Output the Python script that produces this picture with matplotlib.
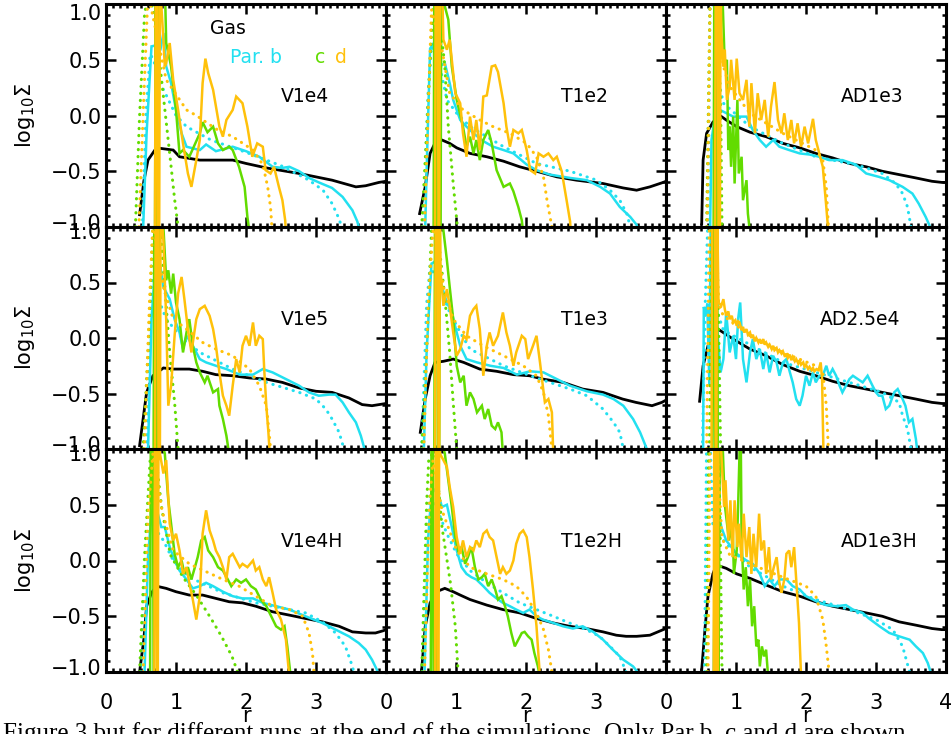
import matplotlib.pyplot as plt
from matplotlib.ticker import MultipleLocator
from matplotlib.transforms import ScaledTranslation

# Radial profiles, (r, log10 Sigma) pairs. "gas" is the gas disc, b/c/d are the
# particle species at the end of the run, b0/c0/d0 their initial profiles.

v1e4_gas = [(0.48, -0.89), (0.54, -0.59), (0.60, -0.40), (0.72, -0.29), (0.96, -0.31), (1.05, -0.37),
            (1.34, -0.40), (1.81, -0.40), (2.00, -0.43), (2.29, -0.47), (2.76, -0.52), (3.23, -0.58),
            (3.57, -0.64), (3.71, -0.63), (3.90, -0.60), (4.0, -0.59)]
v1e4_b = [(0.53, -1.02), (0.58, -0.16), (0.65, 0.62), (0.72, 0.63), (0.78, 0.60), (0.82, 0.74), (0.86, 0.44),
          (0.93, 0.29), (1.00, 0.05), (1.08, -0.16), (1.15, -0.28), (1.34, -0.31), (1.43, -0.26), (1.57, -0.32),
          (1.81, -0.28), (2.00, -0.32), (2.19, -0.37), (2.38, -0.46), (2.52, -0.47), (2.62, -0.46), (2.76, -0.50),
          (2.90, -0.56), (3.04, -0.60), (3.23, -0.65), (3.38, -0.73), (3.52, -0.85), (3.59, -0.95), (3.62, -1.02)]
v1e4_b0 = [(0.52, -1.0), (0.57, 0.0), (0.63, 0.55), (0.68, 0.5), (0.75, 0.32), (0.87, 0.17), (1.0, 0.0),
           (1.15, -0.1), (1.5, -0.22), (2.0, -0.33), (2.5, -0.45), (2.9, -0.58), (3.1, -0.67), (3.23, -0.79),
           (3.31, -0.9), (3.37, -1.0)]
v1e4_c = [(0.70, -1.05), (0.71, 1.2), (0.73, -1.05), (0.75, -1.05), (0.76, 1.2), (0.84, 1.2), (0.86, 0.65),
          (0.93, 0.44), (1.00, 0.05), (1.05, -0.34), (1.10, -0.31), (1.19, -0.37), (1.34, -0.16), (1.38, -0.06),
          (1.45, -0.15), (1.53, -0.10), (1.60, -0.25), (1.67, -0.31), (1.76, -0.28), (1.81, -0.31), (1.90, -0.46),
          (1.98, -0.64), (2.02, -0.91), (2.05, -1.05)]
v1e4_c0 = [(0.42, -1.0), (0.48, 0.0), (0.55, 0.9), (0.60, 1.1), (0.70, 0.9), (0.78, 0.4), (0.85, 0.0),
           (0.92, -0.4), (0.98, -0.75), (1.03, -1.0)]
v1e4_d = [(0.70, -1.05), (0.71, 1.2), (0.73, 1.2), (0.74, -1.05), (0.76, -1.05), (0.77, 1.2), (0.79, 0.99),
          (0.82, 0.68), (0.84, 0.44), (0.86, 0.47), (0.91, 0.65), (0.96, 0.32), (1.03, 0.05), (1.10, -0.25),
          (1.17, -0.52), (1.22, -0.64), (1.29, -0.40), (1.34, -0.22), (1.38, 0.29), (1.42, 0.51), (1.46, 0.38),
          (1.53, 0.23), (1.62, -0.10), (1.67, -0.19), (1.72, -0.04), (1.81, 0.05), (1.86, 0.17), (1.95, 0.11),
          (2.02, -0.10), (2.09, -0.37), (2.16, -0.25), (2.24, -0.28), (2.28, -0.49), (2.35, -0.52), (2.40, -0.46),
          (2.47, -0.64), (2.52, -0.76), (2.56, -0.94), (2.57, -1.05)]
v1e4_d0 = [(0.47, -1.0), (0.53, 0.0), (0.60, 1.1), (0.70, 0.8), (0.86, 0.32), (1.15, 0.05), (1.29, 0.0),
           (1.57, -0.12), (1.81, -0.19), (2.10, -0.31), (2.24, -0.44), (2.31, -0.64), (2.35, -0.82), (2.37, -1.0)]

t1e2_gas = [(0.48, -0.88), (0.56, -0.64), (0.63, -0.34), (0.72, -0.22), (0.80, -0.22), (0.91, -0.25),
            (1.01, -0.29), (1.20, -0.34), (1.44, -0.37), (1.68, -0.41), (1.91, -0.46), (2.15, -0.50),
            (2.44, -0.55), (2.72, -0.58), (3.10, -0.61), (3.39, -0.65), (3.58, -0.67), (3.77, -0.64),
            (3.96, -0.60), (4.0, -0.59)]
t1e2_b = [(0.56, -1.02), (0.58, -0.5), (0.63, 0.6), (0.68, 0.65), (0.72, 0.5), (0.77, 0.44), (0.84, 0.47),
          (0.91, 0.29), (0.96, 0.14), (1.06, -0.04), (1.15, -0.10), (1.25, -0.16), (1.39, -0.23), (1.53, -0.28),
          (1.68, -0.31), (1.82, -0.34), (2.01, -0.44), (2.15, -0.49), (2.34, -0.53), (2.63, -0.56), (2.87, -0.58),
          (3.06, -0.64), (3.20, -0.70), (3.34, -0.82), (3.49, -0.91), (3.58, -0.98), (3.60, -1.02)]
t1e2_b0 = [(0.53, -1.0), (0.60, 0.2), (0.65, 0.62), (0.77, 0.44), (0.87, 0.14), (1.01, 0.02), (1.20, -0.10),
           (1.68, -0.28), (2.15, -0.43), (2.63, -0.50), (3.01, -0.58), (3.20, -0.67), (3.34, -0.76), (3.44, -0.88),
           (3.49, -1.0)]
t1e2_c = [(0.68, -1.05), (0.69, 1.2), (0.72, 1.2), (0.73, -1.05), (0.78, -1.05), (0.79, 1.2), (0.84, 0.98),
          (0.89, 0.86), (0.94, 0.44), (1.01, 0.14), (1.10, -0.10), (1.15, -0.28), (1.20, -0.19), (1.25, -0.34),
          (1.29, -0.22), (1.34, -0.40), (1.39, -0.22), (1.46, -0.13), (1.51, -0.25), (1.58, -0.49), (1.68, -0.64),
          (1.77, -0.61), (1.82, -0.68), (1.89, -0.82), (1.94, -0.94), (1.96, -1.05)]
t1e2_c0 = [(0.51, -1.0), (0.58, -0.16), (0.65, 0.74), (0.70, 1.1), (0.78, 0.8), (0.84, 0.44), (0.89, -0.10),
           (0.96, -0.61), (1.02, -1.0)]
t1e2_d = [(0.70, -1.05), (0.71, 1.2), (0.74, 1.2), (0.75, -1.05), (0.76, -1.05), (0.77, 1.2), (0.80, 1.2),
          (0.82, 0.68), (0.87, 0.59), (0.91, 0.68), (0.94, 0.50), (0.99, 0.20), (1.06, 0.11), (1.10, -0.16),
          (1.15, -0.37), (1.20, -0.01), (1.25, -0.22), (1.29, -0.04), (1.34, -0.31), (1.39, 0.17), (1.44, 0.18),
          (1.51, 0.44), (1.56, 0.45), (1.60, 0.39), (1.68, 0.11), (1.72, -0.10), (1.77, -0.28), (1.82, -0.13),
          (1.89, -0.16), (1.94, -0.13), (2.01, -0.31), (2.06, -0.49), (2.13, -0.52), (2.18, -0.34), (2.25, -0.37),
          (2.32, -0.34), (2.39, -0.40), (2.44, -0.37), (2.51, -0.50), (2.58, -0.76), (2.63, -0.95), (2.64, -1.05)]
t1e2_d0 = [(0.55, -1.0), (0.60, 0.0), (0.65, 0.95), (0.80, 0.59), (0.91, 0.20), (1.10, 0.05), (1.34, -0.04),
           (1.53, -0.10), (1.77, -0.16), (2.01, -0.25), (2.15, -0.37), (2.25, -0.55), (2.30, -0.76), (2.37, -1.0)]

ad1e3_gas = [(0.51, -0.97), (0.53, -0.40), (0.58, -0.16), (0.67, -0.06), (0.77, 0.0), (0.86, -0.04),
             (1.01, -0.10), (1.20, -0.15), (1.43, -0.19), (1.67, -0.25), (1.91, -0.29), (2.14, -0.34),
             (2.38, -0.38), (2.62, -0.43), (2.86, -0.46), (3.09, -0.50), (3.33, -0.53), (3.57, -0.56),
             (3.80, -0.59), (3.94, -0.60), (4.0, -0.60)]
ad1e3_b = [(0.63, -1.02), (0.65, -0.22), (0.70, -0.01), (0.77, 0.05), (0.96, -0.01), (1.15, -0.01), (1.24, -0.13),
           (1.34, -0.22), (1.43, -0.28), (1.53, -0.22), (1.62, -0.28), (1.76, -0.31), (1.91, -0.34), (2.05, -0.35),
           (2.19, -0.37), (2.33, -0.40), (2.52, -0.40), (2.71, -0.44), (2.86, -0.52), (3.04, -0.55), (3.19, -0.58),
           (3.38, -0.64), (3.52, -0.70), (3.61, -0.79), (3.71, -0.91), (3.76, -0.98), (3.78, -1.02)]
ad1e3_b0 = [(0.60, -1.0), (0.63, 1.1), (0.68, 1.1), (0.72, 0.4), (0.82, 0.11), (1.20, -0.10), (1.67, -0.25),
            (2.14, -0.37), (2.62, -0.43), (2.81, -0.46), (3.09, -0.52), (3.28, -0.61), (3.38, -0.70),
            (3.45, -0.82), (3.50, -1.0)]
ad1e3_c = [(0.68, -1.05), (0.69, 1.2), (0.71, 1.2), (0.72, -1.05), (0.74, -1.05), (0.75, 1.2), (0.80, 1.2),
           (0.84, 0.44), (0.87, 0.50), (0.89, -0.31), (0.91, -0.10), (0.93, -0.46), (0.96, -0.01), (0.98, -0.61),
           (1.02, 0.14), (1.04, -0.52), (1.08, -0.37), (1.10, -0.76), (1.15, -0.58), (1.17, -0.88), (1.20, -1.05)]
ad1e3_c0 = [(0.58, -1.0), (0.63, 1.1), (0.72, 1.1), (0.78, 0.14), (0.80, -1.0)]
ad1e3_d = [(0.70, -1.05), (0.71, 1.2), (0.74, 1.2), (0.75, -1.05), (0.77, -1.05), (0.78, 1.2), (0.79, 0.74),
           (0.82, 0.44), (0.84, 0.59), (0.87, 0.14), (0.91, 0.26), (0.93, 0.50), (0.98, 0.14), (1.01, 0.51),
           (1.05, 0.20), (1.10, 0.14), (1.15, 0.32), (1.19, -0.10), (1.22, 0.29), (1.27, -0.16), (1.31, 0.20),
           (1.36, -0.04), (1.41, 0.14), (1.46, -0.19), (1.50, 0.08), (1.55, 0.30), (1.60, -0.04), (1.65, -0.16),
           (1.69, 0.02), (1.74, -0.22), (1.79, -0.04), (1.83, -0.25), (1.88, -0.07), (1.93, -0.28), (1.98, -0.10),
           (2.03, -0.25), (2.10, -0.03), (2.14, -0.22), (2.19, -0.34), (2.24, -0.46), (2.29, -0.82), (2.32, -1.05)]
ad1e3_d0 = [(0.59, -1.0), (0.63, 1.1), (0.70, 1.1), (0.82, 0.44), (0.91, 0.26), (1.20, 0.02), (1.67, -0.16),
            (2.14, -0.31), (2.24, -0.40), (2.29, -0.64), (2.32, -1.0)]

v1e5_gas = [(0.48, -0.97), (0.53, -0.73), (0.58, -0.49), (0.67, -0.34), (0.82, -0.27), (0.96, -0.28),
            (1.19, -0.28), (1.38, -0.30), (1.57, -0.33), (1.81, -0.34), (2.05, -0.36), (2.29, -0.37),
            (2.52, -0.40), (2.76, -0.45), (3.00, -0.48), (3.23, -0.49), (3.47, -0.54), (3.66, -0.60),
            (3.80, -0.61), (3.90, -0.60), (4.0, -0.59)]
v1e5_b = [(0.60, -1.02), (0.65, 0.17), (0.70, 0.61), (0.77, 0.67), (0.82, 0.46), (0.91, 0.35), (0.98, 0.17),
          (1.05, 0.05), (1.10, -0.10), (1.15, 0.02), (1.24, -0.07), (1.34, -0.19), (1.43, -0.22), (1.57, -0.25),
          (1.72, -0.28), (1.91, -0.33), (2.10, -0.33), (2.24, -0.28), (2.38, -0.31), (2.57, -0.37), (2.76, -0.43),
          (2.90, -0.49), (3.04, -0.52), (3.19, -0.51), (3.28, -0.51), (3.38, -0.58), (3.47, -0.67), (3.57, -0.76),
          (3.64, -0.88), (3.68, -0.97), (3.70, -1.02)]
v1e5_b0 = [(0.58, -1.0), (0.65, 0.5), (0.70, 0.55), (0.77, 0.32), (0.86, 0.17), (1.10, -0.01), (1.34, -0.13),
           (1.81, -0.28), (2.29, -0.40), (2.76, -0.49), (3.00, -0.55), (3.14, -0.64), (3.23, -0.73), (3.33, -0.85),
           (3.40, -1.0)]
v1e5_c = [(0.68, -1.05), (0.69, 1.2), (0.71, 1.2), (0.72, -1.05), (0.75, -1.05), (0.76, 1.2), (0.82, 1.0),
          (0.86, 0.52), (0.89, 0.61), (0.93, 0.40), (0.96, 0.58), (1.00, 0.32), (1.05, 0.17), (1.10, -0.13),
          (1.15, 0.05), (1.19, 0.17), (1.24, -0.07), (1.29, -0.22), (1.34, -0.31), (1.41, -0.40), (1.45, -0.34),
          (1.53, -0.49), (1.60, -0.46), (1.62, -0.61), (1.67, -0.73), (1.72, -0.88), (1.76, -1.05)]
v1e5_c0 = [(0.53, -1.0), (0.60, -0.13), (0.67, 0.97), (0.77, 1.05), (0.84, 0.46), (0.91, -0.13), (0.98, -0.58),
           (1.03, -1.0)]
v1e5_d = [(0.70, -1.05), (0.71, 1.2), (0.74, 1.2), (0.75, -1.05), (0.77, -1.05), (0.78, 1.2), (0.82, 0.88),
          (0.86, 0.17), (0.89, -0.61), (0.93, -0.43), (0.98, 0.02), (1.03, 0.40), (1.08, 0.55), (1.12, 0.35),
          (1.17, 0.08), (1.22, -0.13), (1.29, 0.17), (1.34, 0.26), (1.41, 0.29), (1.48, 0.20), (1.53, 0.08),
          (1.57, -0.07), (1.62, -0.31), (1.67, -0.52), (1.72, -0.61), (1.76, -0.70), (1.81, -0.43), (1.86, -0.19),
          (1.91, -0.31), (1.95, -0.07), (2.00, 0.02), (2.05, -0.07), (2.10, 0.14), (2.14, -0.07), (2.19, 0.02),
          (2.24, -0.01), (2.26, -0.28), (2.29, -0.61), (2.32, -0.85), (2.34, -1.05)]
v1e5_d0 = [(0.55, -1.0), (0.62, 0.3), (0.67, 1.05), (0.82, 0.46), (0.96, 0.17), (1.15, 0.08), (1.38, -0.04),
           (1.57, -0.10), (1.81, -0.16), (2.05, -0.28), (2.19, -0.43), (2.29, -0.61), (2.33, -0.85), (2.35, -1.0)]

t1e3_gas = [(0.49, -0.85), (0.56, -0.55), (0.63, -0.34), (0.70, -0.22), (0.82, -0.21), (0.96, -0.19),
            (1.11, -0.22), (1.34, -0.28), (1.58, -0.30), (1.82, -0.33), (2.05, -0.34), (2.24, -0.37),
            (2.53, -0.40), (2.81, -0.46), (3.10, -0.49), (3.38, -0.55), (3.57, -0.58), (3.80, -0.61),
            (3.94, -0.58), (4.0, -0.56)]
t1e3_b = [(0.54, -1.02), (0.58, -0.13), (0.65, 0.67), (0.73, 0.70), (0.80, 0.46), (0.87, 0.32), (0.94, 0.23),
          (1.01, 0.05), (1.06, -0.07), (1.15, -0.19), (1.30, -0.22), (1.49, -0.25), (1.68, -0.27), (1.87, -0.33),
          (2.06, -0.30), (2.25, -0.31), (2.44, -0.37), (2.63, -0.43), (2.87, -0.48), (3.10, -0.51), (3.25, -0.55),
          (3.39, -0.61), (3.53, -0.73), (3.63, -0.85), (3.72, -0.99), (3.73, -1.02)]
t1e3_b0 = [(0.51, -1.0), (0.58, 0.3), (0.63, 0.65), (0.77, 0.46), (0.91, 0.23), (1.06, 0.05), (1.20, -0.10),
           (1.68, -0.25), (2.15, -0.36), (2.63, -0.46), (2.87, -0.52), (3.10, -0.64), (3.25, -0.76), (3.34, -0.85),
           (3.39, -1.0)]
t1e3_c = [(0.69, -1.05), (0.70, 1.2), (0.73, 1.2), (0.74, -1.05), (0.76, -1.05), (0.77, 1.2), (0.82, 0.97),
          (0.87, 0.70), (0.91, 0.46), (0.96, 0.17), (1.01, -0.25), (1.06, -0.40), (1.11, -0.34), (1.15, -0.61),
          (1.20, -0.49), (1.25, -0.55), (1.30, -0.67), (1.37, -0.61), (1.41, -0.73), (1.46, -0.64), (1.51, -0.79),
          (1.56, -0.82), (1.60, -0.76), (1.65, -0.85), (1.67, -1.05)]
t1e3_c0 = [(0.51, -1.0), (0.58, -0.13), (0.65, 0.97), (0.72, 1.05), (0.84, 0.37), (0.91, -0.13), (0.96, -0.58),
           (1.01, -1.0)]
t1e3_d = [(0.70, -1.05), (0.71, 1.2), (0.74, 1.2), (0.75, -1.05), (0.76, -1.05), (0.77, 1.2), (0.78, 0.59),
          (0.82, 0.29), (0.87, 0.44), (0.91, 0.29), (0.96, 0.05), (1.01, -0.16), (1.06, -0.10), (1.11, 0.02),
          (1.15, -0.01), (1.20, 0.20), (1.25, 0.26), (1.29, 0.29), (1.34, 0.08), (1.39, -0.34), (1.44, -0.07),
          (1.48, 0.05), (1.53, -0.07), (1.60, 0.02), (1.67, 0.23), (1.72, 0.05), (1.77, -0.07), (1.82, -0.25),
          (1.86, -0.13), (1.94, 0.02), (1.99, -0.01), (2.03, -0.19), (2.10, -0.07), (2.15, 0.02), (2.20, -0.22),
          (2.24, -0.43), (2.27, -0.58), (2.32, -0.55), (2.37, -0.67), (2.39, -1.05)]
t1e3_d0 = [(0.54, -1.0), (0.60, 0.3), (0.68, 1.05), (0.82, 0.46), (0.96, 0.17), (1.15, 0.02), (1.39, -0.07),
           (1.68, -0.16), (1.96, -0.25), (2.15, -0.34), (2.25, -0.49), (2.32, -0.70), (2.37, -1.0)]

ad25e4_gas = [(0.48, -0.57), (0.53, -0.25), (0.60, -0.07), (0.72, 0.09), (0.96, -0.01), (1.20, -0.10),
              (1.43, -0.16), (1.67, -0.24), (1.91, -0.30), (2.14, -0.34), (2.38, -0.39), (2.62, -0.43),
              (2.86, -0.46), (3.09, -0.49), (3.33, -0.52), (3.57, -0.55), (3.80, -0.58), (3.94, -0.59), (4.0, -0.59)]
ad25e4_b = [(0.53, -1.02), (0.54, 0.28), (0.57, 0.20), (0.59, 0.31), (0.62, -0.43), (0.64, 1.2), (0.67, 0.46),
            (0.70, -0.6), (0.72, 0.17), (0.78, -0.31), (0.82, -0.19), (0.86, 0.23), (0.91, -0.13), (0.96, 0.02),
            (1.00, -0.19), (1.03, 0.17), (1.06, 0.32), (1.10, -0.19), (1.15, -0.40), (1.20, -0.13), (1.24, -0.01),
            (1.29, -0.19), (1.34, -0.10), (1.39, -0.28), (1.43, -0.13), (1.48, -0.31), (1.53, -0.16), (1.58, -0.22),
            (1.62, -0.34), (1.67, -0.22), (1.72, -0.19), (1.77, -0.31), (1.81, -0.40), (1.86, -0.55), (1.91, -0.61),
            (1.95, -0.52), (2.00, -0.34), (2.05, -0.43), (2.10, -0.31), (2.14, -0.40), (2.19, -0.34), (2.24, -0.34),
            (2.29, -0.25), (2.33, -0.34), (2.38, -0.28), (2.43, -0.34), (2.48, -0.43), (2.52, -0.49), (2.57, -0.43),
            (2.62, -0.37), (2.67, -0.34), (2.74, -0.37), (2.81, -0.40), (2.88, -0.34), (2.95, -0.43), (3.00, -0.49),
            (3.04, -0.52), (3.09, -0.52), (3.14, -0.64), (3.19, -0.61), (3.26, -0.49), (3.31, -0.46), (3.38, -0.55),
            (3.42, -0.61), (3.47, -0.76), (3.52, -0.73), (3.57, -0.91), (3.59, -1.02)]
ad25e4_b0 = [(0.52, -1.0), (0.56, 0.3), (0.60, 1.1), (0.66, 1.1), (0.70, 0.3), (0.82, 0.07), (1.67, -0.22),
             (2.62, -0.40), (3.09, -0.49), (3.33, -0.58), (3.38, -0.70), (3.45, -0.82), (3.50, -1.0)]
ad25e4_c = [(0.66, -1.05), (0.67, 1.2), (0.69, 1.2), (0.70, -1.05), (0.72, -1.05), (0.73, 1.2), (0.74, -1.05)]
ad25e4_c0 = [(0.62, -1.0), (0.65, 1.1), (0.72, 1.1), (0.75, 0.2), (0.78, -1.0)]
ad25e4_d = [(0.65, -1.05), (0.66, 1.2), (0.70, 1.2), (0.71, -1.05), (0.72, -1.05), (0.73, 1.2), (0.75, 0.32),
            (0.79, 0.29), (0.82, 0.35), (0.84, 0.26), (0.86, 0.20), (0.89, 0.24), (0.91, 0.17), (0.94, 0.20),
            (0.96, 0.14), (0.99, 0.16), (1.01, 0.11), (1.03, 0.15), (1.05, 0.14), (1.08, 0.07), (1.10, 0.10),
            (1.12, 0.05), (1.15, 0.08), (1.17, 0.03), (1.20, 0.05), (1.22, 0.0), (1.24, 0.03), (1.27, -0.03),
            (1.29, 0.0), (1.32, -0.04), (1.34, -0.01), (1.36, -0.05), (1.39, -0.01), (1.41, -0.06), (1.43, -0.04),
            (1.46, -0.08), (1.48, -0.06), (1.51, -0.10), (1.53, -0.07), (1.55, -0.11), (1.58, -0.09), (1.60, -0.13),
            (1.62, -0.11), (1.65, -0.14), (1.67, -0.12), (1.70, -0.17), (1.72, -0.14), (1.74, -0.18), (1.77, -0.15),
            (1.79, -0.20), (1.81, -0.17), (1.84, -0.21), (1.86, -0.19), (1.89, -0.23), (1.91, -0.20), (1.93, -0.24),
            (1.96, -0.22), (1.98, -0.26), (2.00, -0.24), (2.03, -0.28), (2.05, -0.26), (2.08, -0.29), (2.10, -0.27),
            (2.12, -0.30), (2.15, -0.28), (2.18, -0.29), (2.21, -0.22), (2.23, -0.37), (2.24, -0.73), (2.25, -1.05)]
ad25e4_d0 = [(0.58, -1.0), (0.62, 1.1), (0.70, 1.1), (0.75, 0.3), (0.82, 0.20), (1.20, 0.02), (1.67, -0.13),
             (2.14, -0.25), (2.24, -0.31), (2.29, -0.61), (2.32, -1.0)]

v1e4h_gas = [(0.48, -1.0), (0.49, -0.95), (0.54, -0.71), (0.58, -0.41), (0.65, -0.29), (0.72, -0.23),
             (0.86, -0.25), (1.00, -0.28), (1.19, -0.31), (1.38, -0.31), (1.57, -0.34), (1.76, -0.37),
             (1.95, -0.38), (2.14, -0.41), (2.38, -0.46), (2.62, -0.49), (2.85, -0.52), (3.09, -0.55),
             (3.33, -0.59), (3.52, -0.64), (3.71, -0.65), (3.85, -0.65), (3.96, -0.63), (4.0, -0.62)]
v1e4h_b = [(0.55, -1.02), (0.60, 0.03), (0.65, 0.42), (0.70, 0.54), (0.74, 0.42), (0.79, 0.30), (0.84, 0.30),
           (0.91, 0.12), (0.98, 0.0), (1.05, -0.09), (1.15, -0.17), (1.24, -0.25), (1.34, -0.23), (1.43, -0.20),
           (1.53, -0.23), (1.67, -0.28), (1.81, -0.32), (1.95, -0.34), (2.10, -0.34), (2.24, -0.38), (2.43, -0.41),
           (2.62, -0.44), (2.85, -0.50), (3.09, -0.56), (3.28, -0.62), (3.47, -0.68), (3.61, -0.74), (3.71, -0.80),
           (3.80, -0.89), (3.87, -0.98), (3.89, -1.02)]
v1e4h_b0 = [(0.50, -1.0), (0.56, 0.0), (0.63, 0.33), (0.72, 0.27), (0.82, 0.18), (0.96, 0.0), (1.19, -0.15),
            (1.67, -0.29), (2.14, -0.38), (2.62, -0.44), (2.85, -0.47), (3.09, -0.55), (3.28, -0.65),
            (3.42, -0.77), (3.52, -0.95), (3.54, -1.0)]
v1e4h_c = [(0.63, -1.05), (0.64, 1.2), (0.67, 1.2), (0.68, -1.05), (0.73, -1.05), (0.74, 1.2), (0.84, 0.96),
           (0.89, 0.54), (0.93, 0.33), (0.98, 0.06), (1.03, -0.06), (1.08, 0.0), (1.12, -0.12), (1.17, -0.06),
           (1.22, -0.17), (1.27, -0.06), (1.31, 0.03), (1.36, 0.18), (1.41, 0.21), (1.46, 0.09), (1.53, 0.03),
           (1.60, -0.06), (1.67, -0.09), (1.74, -0.17), (1.79, -0.23), (1.86, -0.17), (1.93, -0.20), (2.00, -0.17),
           (2.07, -0.23), (2.14, -0.26), (2.21, -0.35), (2.29, -0.41), (2.36, -0.50), (2.43, -0.59), (2.50, -0.62),
           (2.55, -0.59), (2.59, -0.77), (2.64, -1.05)]
v1e4h_c0 = [(0.48, -1.0), (0.55, 0.03), (0.63, 0.90), (0.70, 0.99), (0.80, 0.45), (0.92, 0.05), (1.10, -0.15),
            (1.30, -0.32), (1.50, -0.52), (1.65, -0.68), (1.80, -0.86), (1.88, -1.0)]
v1e4h_d = [(0.69, -1.05), (0.70, 1.2), (0.72, 1.2), (0.73, -1.05), (0.74, -1.05), (0.75, 1.2), (0.77, 0.96),
           (0.82, 0.78), (0.86, 0.90), (0.91, 0.33), (0.96, 0.18), (1.00, 0.24), (1.05, 0.09), (1.10, -0.12),
           (1.15, -0.06), (1.19, -0.20), (1.24, -0.35), (1.29, -0.53), (1.34, -0.32), (1.38, 0.24), (1.43, 0.45),
           (1.48, 0.27), (1.53, 0.18), (1.57, 0.09), (1.62, 0.03), (1.67, -0.06), (1.72, -0.17), (1.76, 0.03),
           (1.81, 0.06), (1.86, 0.0), (1.91, -0.06), (1.95, -0.03), (2.02, -0.06), (2.10, 0.0), (2.14, -0.09),
           (2.19, -0.06), (2.24, -0.17), (2.29, -0.23), (2.33, -0.15), (2.38, -0.29), (2.43, -0.44), (2.50, -0.53),
           (2.57, -0.71), (2.62, -1.05)]
v1e4h_d0 = [(0.53, -1.0), (0.60, 0.4), (0.67, 0.96), (0.80, 0.45), (0.96, 0.09), (1.19, -0.03), (1.43, -0.10),
            (1.67, -0.17), (1.90, -0.23), (2.14, -0.32), (2.38, -0.41), (2.62, -0.44), (2.81, -0.50), (2.90, -0.65),
            (2.95, -0.83), (2.97, -1.0)]

t1e2h_gas = [(0.51, -0.98), (0.56, -0.59), (0.63, -0.38), (0.72, -0.28), (0.84, -0.25), (0.96, -0.28),
             (1.06, -0.31), (1.20, -0.35), (1.44, -0.40), (1.67, -0.44), (1.91, -0.47), (2.15, -0.52),
             (2.39, -0.56), (2.62, -0.59), (2.86, -0.61), (3.10, -0.64), (3.29, -0.67), (3.43, -0.68),
             (3.58, -0.68), (3.77, -0.67), (3.96, -0.62), (4.0, -0.61)]
t1e2h_b = [(0.55, -1.02), (0.60, 0.18), (0.65, 0.60), (0.72, 0.65), (0.80, 0.48), (0.87, 0.50), (0.94, 0.30),
           (1.01, 0.09), (1.08, -0.06), (1.15, -0.12), (1.22, -0.15), (1.29, -0.17), (1.39, -0.23), (1.48, -0.29),
           (1.58, -0.34), (1.67, -0.38), (1.77, -0.41), (1.86, -0.44), (1.96, -0.47), (2.05, -0.44), (2.15, -0.50),
           (2.24, -0.53), (2.39, -0.56), (2.53, -0.59), (2.67, -0.61), (2.81, -0.59), (2.96, -0.64), (3.10, -0.71),
           (3.24, -0.80), (3.39, -0.89), (3.53, -0.95), (3.62, -1.02)]
t1e2h_b0 = [(0.52, -1.0), (0.58, 0.3), (0.63, 0.6), (0.72, 0.48), (0.87, 0.24), (1.01, 0.06), (1.20, -0.09),
            (1.44, -0.20), (1.67, -0.29), (1.91, -0.38), (2.15, -0.44), (2.39, -0.50), (2.62, -0.56), (2.86, -0.62),
            (3.05, -0.68), (3.20, -0.77), (3.34, -0.86), (3.43, -1.0)]
t1e2h_c = [(0.64, -1.05), (0.65, 1.2), (0.67, 1.2), (0.68, -1.05), (0.73, -1.05), (0.74, 1.2), (0.84, 0.96),
           (0.89, 0.72), (0.94, 0.48), (0.99, 0.21), (1.03, 0.09), (1.08, 0.12), (1.13, -0.03), (1.17, 0.03),
           (1.22, 0.12), (1.27, -0.06), (1.32, -0.17), (1.37, -0.15), (1.41, -0.12), (1.46, -0.23), (1.51, -0.17),
           (1.56, -0.26), (1.60, -0.35), (1.65, -0.32), (1.70, -0.41), (1.74, -0.50), (1.79, -0.65), (1.84, -0.77),
           (1.89, -0.71), (1.94, -0.65), (1.98, -0.64), (2.03, -0.68), (2.08, -0.71), (2.12, -0.83), (2.17, -0.95),
           (2.20, -1.05)]
t1e2h_c0 = [(0.51, -1.0), (0.58, 0.5), (0.61, 0.9), (0.70, 1.0), (0.80, 0.3), (0.92, -0.20), (0.99, -0.59),
            (1.03, -1.0)]
t1e2h_d = [(0.70, -1.05), (0.71, 1.2), (0.73, 1.2), (0.74, -1.05), (0.75, -1.05), (0.76, 1.2), (0.77, 0.96),
           (0.82, 0.90), (0.87, 0.84), (0.91, 0.66), (0.96, 0.48), (1.01, 0.21), (1.06, 0.06), (1.10, 0.18),
           (1.15, 0.03), (1.20, 0.12), (1.25, 0.09), (1.29, 0.18), (1.34, 0.12), (1.39, 0.24), (1.44, 0.27),
           (1.48, 0.21), (1.53, 0.18), (1.58, 0.03), (1.63, -0.12), (1.67, -0.06), (1.72, -0.12), (1.77, -0.09),
           (1.82, 0.0), (1.86, 0.15), (1.91, 0.24), (1.96, 0.27), (2.01, 0.21), (2.05, 0.03), (2.10, -0.26),
           (2.15, -0.59), (2.20, -1.05)]
t1e2h_d0 = [(0.55, -1.0), (0.62, 0.5), (0.67, 0.9), (0.80, 0.45), (0.87, 0.33), (1.01, 0.09), (1.20, -0.06),
            (1.44, -0.12), (1.67, -0.17), (1.86, -0.23), (2.00, -0.32), (2.15, -0.47), (2.25, -0.62), (2.32, -0.80),
            (2.37, -1.0)]

ad1e3h_gas = [(0.51, -0.98), (0.56, -0.59), (0.60, -0.32), (0.67, -0.12), (0.72, -0.04), (0.86, -0.07),
              (1.01, -0.12), (1.20, -0.16), (1.43, -0.22), (1.67, -0.28), (1.91, -0.32), (2.14, -0.37),
              (2.38, -0.41), (2.62, -0.44), (2.86, -0.47), (3.09, -0.50), (3.33, -0.55), (3.57, -0.58),
              (3.80, -0.61), (3.94, -0.62), (4.0, -0.62)]
ad1e3h_b = [(0.68, -1.02), (0.70, 0.18), (0.74, 0.5), (0.79, 0.3), (0.86, 0.18), (1.01, 0.06), (1.15, 0.0),
            (1.24, -0.03), (1.34, -0.12), (1.41, -0.23), (1.48, -0.17), (1.55, -0.23), (1.62, -0.17), (1.72, -0.17),
            (1.81, -0.23), (1.91, -0.26), (2.00, -0.32), (2.10, -0.35), (2.19, -0.38), (2.29, -0.40), (2.43, -0.41),
            (2.57, -0.40), (2.67, -0.44), (2.81, -0.47), (2.90, -0.52), (3.05, -0.59), (3.19, -0.65), (3.33, -0.68),
            (3.48, -0.71), (3.57, -0.77), (3.67, -0.83), (3.74, -0.92), (3.79, -1.02)]
ad1e3h_b0 = [(0.55, -1.0), (0.58, 1.1), (0.63, 1.1), (0.67, 0.3), (0.86, 0.15), (1.20, -0.06), (1.67, -0.23),
             (2.14, -0.35), (2.62, -0.44), (3.00, -0.53), (3.24, -0.62), (3.38, -0.77), (3.48, -1.0)]
ad1e3h_c = [(0.71, -1.05), (0.72, 1.2), (0.74, 1.2), (0.75, -1.05), (0.77, 1.2), (0.80, 1.2), (0.84, 0.5),
            (0.90, 0.18), (0.95, 0.33), (0.97, -0.12), (1.01, 0.09), (1.03, 0.48), (1.06, 1.2), (1.07, 0.96),
            (1.08, 0.18), (1.11, -0.26), (1.14, -0.06), (1.17, -0.41), (1.20, -0.17), (1.23, -0.59), (1.26, -0.41),
            (1.29, -0.77), (1.32, -0.71), (1.34, -0.95), (1.37, -0.77), (1.40, -0.86), (1.43, -0.80), (1.46, -1.05)]
ad1e3h_c0 = [(0.58, -1.0), (0.61, 1.1), (0.75, 1.1), (0.78, 0.0), (0.80, -1.0)]
ad1e3h_d = [(0.68, -1.05), (0.69, 1.2), (0.71, -1.05), (0.72, 1.2), (0.74, -1.05), (0.75, 1.2), (0.79, 0.96),
            (0.83, 0.48), (0.85, 0.72), (0.89, 0.18), (0.92, 0.54), (0.95, 0.03), (0.98, 0.54), (1.02, 0.12),
            (1.04, 0.33), (1.08, 0.0), (1.11, 0.42), (1.15, 0.03), (1.19, 0.30), (1.22, -0.12), (1.25, 0.24),
            (1.29, -0.06), (1.33, 0.42), (1.36, 0.09), (1.40, 0.18), (1.43, -0.12), (1.47, 0.12), (1.50, -0.17),
            (1.54, -0.06), (1.58, 0.03), (1.62, -0.20), (1.65, -0.29), (1.69, -0.17), (1.72, 0.06), (1.76, 0.09),
            (1.79, -0.06), (1.83, 0.12), (1.86, -0.17), (1.90, -0.56), (1.93, -1.05)]
ad1e3h_d0 = [(0.60, -1.0), (0.63, 1.1), (0.72, 1.1), (0.80, 0.2), (0.91, 0.05), (1.20, -0.03), (1.67, -0.15),
             (2.00, -0.23), (2.14, -0.32), (2.24, -0.53), (2.29, -0.77), (2.33, -1.0)]

run_names = ["V1e4", "T1e2", "AD1e3", "V1e5", "T1e3", "AD2.5e4", "V1e4H", "T1e2H", "AD1e3H"]
x_ticks = [0, 1, 2, 3, 4]
y_ticks = [-1.0, -0.5, 0.0, 0.5, 1.0]

panels = [
    (v1e4_gas, v1e4_b, v1e4_b0, v1e4_c, v1e4_c0, v1e4_d, v1e4_d0),
    (t1e2_gas, t1e2_b, t1e2_b0, t1e2_c, t1e2_c0, t1e2_d, t1e2_d0),
    (ad1e3_gas, ad1e3_b, ad1e3_b0, ad1e3_c, ad1e3_c0, ad1e3_d, ad1e3_d0),
    (v1e5_gas, v1e5_b, v1e5_b0, v1e5_c, v1e5_c0, v1e5_d, v1e5_d0),
    (t1e3_gas, t1e3_b, t1e3_b0, t1e3_c, t1e3_c0, t1e3_d, t1e3_d0),
    (ad25e4_gas, ad25e4_b, ad25e4_b0, ad25e4_c, ad25e4_c0, ad25e4_d, ad25e4_d0),
    (v1e4h_gas, v1e4h_b, v1e4h_b0, v1e4h_c, v1e4h_c0, v1e4h_d, v1e4h_d0),
    (t1e2h_gas, t1e2h_b, t1e2h_b0, t1e2h_c, t1e2h_c0, t1e2h_d, t1e2h_d0),
    (ad1e3h_gas, ad1e3h_b, ad1e3h_b0, ad1e3h_c, ad1e3h_c0, ad1e3h_d, ad1e3h_d0),
]

CYAN = "#22e0f0"
GREEN = "#62dc00"
ORANGE = "#ffc10a"
DOTS = (0, (0.1, 2.2))

FIG_W, FIG_H = 951, 734
COL_LEFT = [106, 386, 666]
COL_W = 280
ROW_EDGES = [4, 227, 449, 672]


def _draw(ax, pts, dotted=False, **kw):
    r, s = zip(*pts)
    if dotted:
        ax.plot(r, s, ls=DOTS, lw=2.2, dash_capstyle="round", **kw)
    else:
        ax.plot(r, s, solid_joinstyle="miter", **kw)


fig = plt.figure(figsize=(FIG_W / 100, FIG_H / 100), dpi=100)

for i, (name, series) in enumerate(zip(run_names, panels)):
    row, col = divmod(i, 3)
    top, bot = ROW_EDGES[row], ROW_EDGES[row + 1]
    ax = fig.add_axes([COL_LEFT[col] / FIG_W, 1 - bot / FIG_H, COL_W / FIG_W, (bot - top) / FIG_H])

    gas, b, b0, c, c0, d, d0 = series
    _draw(ax, gas, color="black", lw=2.0)
    _draw(ax, b0, dotted=True, color=CYAN)
    _draw(ax, b, color=CYAN, lw=1.8)
    _draw(ax, c0, dotted=True, color=GREEN)
    _draw(ax, c, color=GREEN, lw=1.8)
    _draw(ax, d0, dotted=True, color=ORANGE)
    _draw(ax, d, color=ORANGE, lw=1.8)

    ax.set_xlim(0, 4)
    ax.set_ylim(-1, 1)
    ax.xaxis.set_minor_locator(MultipleLocator(0.1))
    ax.yaxis.set_minor_locator(MultipleLocator(0.1))
    ax.tick_params(which="both", direction="in", top=True, right=True, width=1.8, labelsize=15)
    ax.tick_params(which="major", length=7)
    ax.tick_params(which="minor", length=3)
    ax.tick_params(axis="x", pad=15)
    ax.tick_params(axis="y", pad=3)
    for sp in ax.spines.values():
        sp.set_linewidth(2.2)

    if row == 2:
        labels = [str(t) for t in x_ticks]
        if col < 2:
            labels[-1] = ""
        ax.set_xticks(x_ticks, labels=labels)
    else:
        ax.set_xticks(x_ticks, labels=[])
    if col == 0:
        ax.set_yticks(y_ticks)
        # pull the end labels a little inside the frame
        ylabels = ax.get_yticklabels()
        down = 0.08 if row == 0 else 0.04
        ylabels[-1].set_transform(ylabels[-1].get_transform()
                                  + ScaledTranslation(0, -down, fig.dpi_scale_trans))
        ylabels[0].set_transform(ylabels[0].get_transform()
                                 + ScaledTranslation(0, 0.05, fig.dpi_scale_trans))
    else:
        ax.set_yticks(y_ticks, labels=[])

    ax.text(2.2 if name == "AD2.5e4" else 2.5, 0.17, name, fontsize=13.5, va="center")

    if i == 0:
        ax.text(1.49, 0.78, "Gas", fontsize=13.5, va="center")
        ax.text(1.77, 0.52, "Par. b", color=CYAN, fontsize=13.5, va="center")
        ax.text(2.99, 0.52, "c", color=GREEN, fontsize=13.5, va="center")
        ax.text(3.27, 0.52, "d", color=ORANGE, fontsize=13.5, va="center")

for row in range(3):
    yc = (ROW_EDGES[row] + ROW_EDGES[row + 1]) / 2
    fig.text(25 / FIG_W, 1 - yc / FIG_H, "log$_{10}$Σ", rotation=90, fontsize=15, ha="center", va="center")

for col in range(3):
    fig.text((COL_LEFT[col] + COL_W / 2) / FIG_W, 1 - 716 / FIG_H, "r", fontsize=15, ha="center", va="center")

fig.text(0.003, 1 - 722 / FIG_H,
         "Figure 3 but for different runs at the end of the simulations. Only Par b, c and d are shown.",
         family="Liberation Serif", fontsize=18, va="top", ha="left")

fig.savefig("out.png", dpi=100)
plt.close(fig)
